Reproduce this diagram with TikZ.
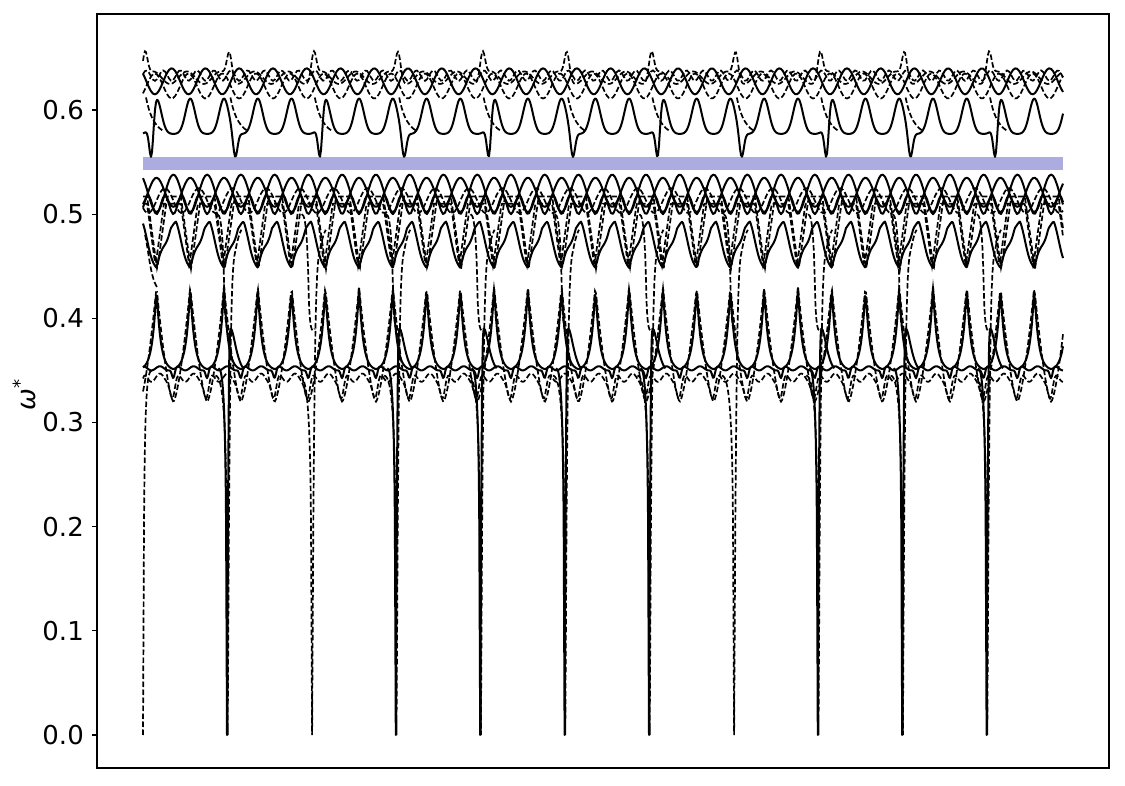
\documentclass[tikz,border=0pt]{standalone}
\usepackage{fontspec}
\setmainfont{DejaVu Sans}
\definecolor{bandblue}{RGB}{172,172,224}
\begin{document}
\begin{tikzpicture}[x=1pt,y=1pt,
  declare function={
    ph(\x)=(\x-143)/33.76;
    dd(\x,\c)=abs(ph(\x)-\c-round(ph(\x)-\c));
    db(\x,\s)=84.4*abs((\x-143-\s)/84.4-round((\x-143-\s)/84.4));
    tri(\x,\c,\w)=max(0,1-dd(\x,\c)/\w);
    cA(\x,\c)=cos(360*mod(ph(\x)-\c,1));
    cB(\x,\c)=cos(360*mod(2*(ph(\x)-\c),1));
    sbase(\x)=0.577+0.034*exp(-((dd(\x,0.4)/0.2)^2));
  },
  sol/.style={line width=2pt, line join=round},
  das/.style={line width=1.7pt, dash pattern=on 5.5pt off 2.5pt},
  frame/.style={line width=1.1pt},
  ticklab/.style={anchor=east, inner sep=0pt, font=\fontsize{26}{30}\selectfont},
]
\useasboundingbox (0,0) rectangle (1125,785);

% data scope: v -> Y = 50 + 1041.67 v
\begin{scope}[y=1041.67pt, yshift=50pt]
  \fill[bandblue] (143,0.5424) rectangle (1063,0.555);

  % top band
  \draw[das] plot[domain=143:1063, samples=921] (\x,{0.631+0.006*cA(\x,0.3)+0.025*exp(-((db(\x,2)/3.5)^2))});
  \draw[sol] plot[domain=143:1063, samples=461] (\x,{0.6275+0.0125*cA(\x,0.85)});
  \draw[das] plot[domain=143:1063, samples=461] (\x,{0.623+0.012*cA(\x,0.35)});
  \draw[das] plot[domain=143:1063, samples=461] (\x,{0.633+0.005*cB(\x,0.1)});

  % solid band 0.555 - 0.61
  \draw[sol] plot[domain=143:1063, samples=921] (\x,{sbase(\x)+(0.555-sbase(\x))*exp(-((db(\x,8)/3)^2))});

  % band 0.50 - 0.54
  \draw[sol] plot[domain=143:1063, samples=461] (\x,{0.52+0.018*cA(\x,0.9)});
  \draw[sol] plot[domain=143:1063, samples=461] (\x,{0.521+0.014*cA(\x,0.4)});
  \draw[sol] plot[domain=143:1063, samples=461] (\x,{0.509+0.009*cB(\x,0.15)});
  \draw[das] plot[domain=143:1063, samples=461] (\x,{0.513+0.012*cA(\x,0.65)});

  % band 0.45 - 0.49
  \draw[sol] plot[domain=143:1063, samples=921] (\x,{0.489+0.004*cB(\x,0)-0.042*tri(\x,0.4,0.42)});
  \draw[das] plot[domain=143:1063, samples=921] (\x,{0.447+0.07*(1-tri(\x,0.42,0.3))});
  \draw[das] plot[domain=143:1063, samples=921] (\x,{0.45+0.06*(1-tri(\x,0.37,0.25))});

  % band 0.32 - 0.43
  \draw[sol] plot[domain=143:1063, samples=921] (\x,{0.35+0.08*exp(-dd(\x,0.4)/0.12)});
  \draw[sol] plot[domain=143:1063, samples=921] (\x,{0.352+0.002*cB(\x,0)-0.01*exp(-((dd(\x,0.9)/0.06)^2))});
  \draw[das] plot[domain=143:1063, samples=921] (\x,{0.32+0.11*(1-2*dd(\x,0.4))*sqrt(1-2*dd(\x,0.4))});
  \draw[das] plot[domain=143:1063, samples=921] (\x,{0.343-0.02*exp(-((dd(\x,0.88)/0.1)^2))+0.004*cB(\x,0)});

  % first cell start
  \draw[das] (143,0) -- (144,0.2) .. controls (145,0.33) and (147,0.35) .. (152,0.35);
  \draw[das] (145,0.48) .. controls (148,0.47) and (150,0.44) .. (157,0.43);

  % boundary features
  \foreach \k [evaluate=\k as \xk using 143+84.4*\k] in {1,...,10}{
    \draw[das] ({\xk-12},0.345) .. controls ({\xk-4},0.345) and ({\xk-1.5},0.3) .. ({\xk-0.8},0.2)
      -- ({\xk+0.3},0) -- ({\xk+1.5},0.2)
      .. controls ({\xk+3},0.38) and ({\xk+4},0.44) .. ({\xk+7},0.46)
      .. controls ({\xk+9},0.47) and ({\xk+11},0.48) .. ({\xk+14},0.485);
    \draw[das] ({\xk-10},0.5) .. controls ({\xk-5},0.5) and ({\xk-4},0.46) .. ({\xk-3},0.42)
      .. controls ({\xk-2},0.39) and ({\xk},0.385) .. ({\xk+3},0.39);
  }
  \foreach \k [evaluate=\k as \xk using 143+84.4*\k] in {0,...,10}{
    \draw[das] ({\xk+3},0.612) .. controls ({\xk+6},0.598) and ({\xk+10},0.586) .. ({\xk+20},0.58);
  }
  \foreach \k [evaluate=\k as \xk using 143+84.4*\k] in {1,3,4,5,6,8,9,10}{
    \draw[sol] ({\xk-9},0.352) .. controls ({\xk-5},0.352) and ({\xk-2.2},0.33) .. ({\xk-1.3},0.2)
      -- ({\xk-0.4},0) -- ({\xk+0.6},0.2)
      .. controls ({\xk+1.5},0.37) and ({\xk+2},0.39) .. ({\xk+3.5},0.39)
      .. controls ({\xk+6},0.39) and ({\xk+9},0.36) .. ({\xk+16},0.352);
  }
\end{scope}

% frame and ticks
\draw[frame] (97,17) rectangle (1109,771);
\foreach \i/\t in {0/0.0,1/0.1,2/0.2,3/0.3,4/0.4,5/0.5,6/0.6}{
  \draw[frame] (92,{50+104.167*\i}) -- (97,{50+104.167*\i});
  \node[ticklab] (l\i) at (84,{50+104.167*\i}) {\t};
}
\node[rotate=90, inner sep=0pt, font=\fontsize{26}{30}\selectfont] (ylab) at (24,390) {{\itshape ω}\textsuperscript{*}};
\end{tikzpicture}
\end{document}
